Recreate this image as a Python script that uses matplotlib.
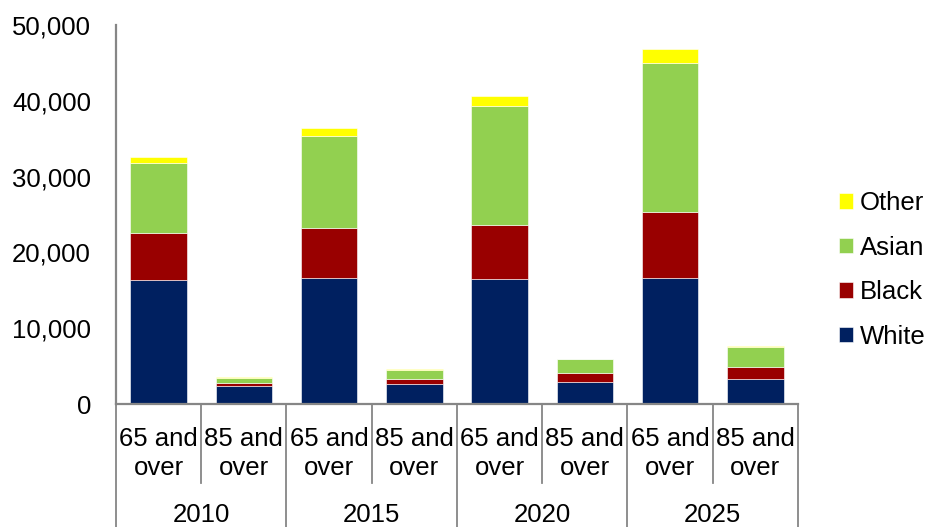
import matplotlib
matplotlib.use("Agg")
import matplotlib.pyplot as plt
import matplotlib.transforms as transforms
from matplotlib.ticker import FuncFormatter

years = ["2010", "2015", "2020", "2025"]
ages = ["65 and\nover", "85 and\nover"]

white = [16360, 2380, 16620, 2640, 16490, 2900, 16620, 3300]
black = [6140, 390, 6550, 700, 7160, 1230, 8660, 1580]
asian = [9240, 610, 12130, 1145, 15610, 1750, 19650, 2640]
other = [850, 130, 1060, 80, 1410, 100, 1850, 80]

series = [("White", white, "#002060"),
          ("Black", black, "#990000"),
          ("Asian", asian, "#92D050"),
          ("Other", other, "#FFFF00")]

plt.rcParams['font.family'] = ['Liberation Sans', 'DejaVu Sans']
fs = 18.5

fig = plt.figure(figsize=(9.29, 5.27), dpi=100)
W, H = 929, 527
ax = fig.add_axes([116 / W, (H - 404) / H, (798 - 116) / W, (404 - 25) / H])

x = list(range(len(white)))
bottom = [0] * len(x)
handles = []
for name, vals, col in series:
    b = ax.bar(x, vals, width=0.664, bottom=bottom, color=col,
               edgecolor="white", linewidth=0.4, label=name)
    handles.append(b)
    bottom = [p + q for p, q in zip(bottom, vals)]

ax.set_xlim(-0.5, len(x) - 0.5)
ax.set_ylim(0, 50000)
ax.set_yticks(range(0, 50001, 10000))
ax.yaxis.set_major_formatter(FuncFormatter(lambda v, p: "{:,.0f}".format(v)))
ax.tick_params(axis="y", length=0, pad=18, labelsize=fs)
ax.set_xticks([])

for s in ["top", "right"]:
    ax.spines[s].set_visible(False)
for s in ["left", "bottom"]:
    ax.spines[s].set_color("#868686")
    ax.spines[s].set_linewidth(1.6)

axh = 404 - 25
trans = transforms.blended_transform_factory(ax.transData, ax.transAxes)

# category separator lines below the axis
for i in range(len(x) + 1):
    xb = i - 0.5
    depth = 79 if i % 2 == 1 else 125
    ax.plot([xb, xb], [0, -depth / axh], transform=trans, color="#868686",
            lw=1.3, clip_on=False)

# two level category labels
for i in x:
    top, bot = ages[i % 2].split("\n")
    ax.text(i, -(446 - 404) / axh, top, transform=trans, ha="center",
            va="baseline", fontsize=fs)
    ax.text(i, -(475 - 404) / axh, bot, transform=trans, ha="center",
            va="baseline", fontsize=fs)
for j, yr in enumerate(years):
    ax.text(2 * j + 0.5, -(522 - 404) / axh, yr, transform=trans,
            ha="center", va="baseline", fontsize=fs)

fig.legend(handles[::-1], [s[0] for s in series][::-1],
           loc="center left", bbox_to_anchor=(839 / W, 1 - 270 / H),
           frameon=False, fontsize=fs, handlelength=0.55, handleheight=0.55,
           handletextpad=0.25, labelspacing=0.8, borderpad=0,
           borderaxespad=0)

fig.savefig("out.png", dpi=100)
